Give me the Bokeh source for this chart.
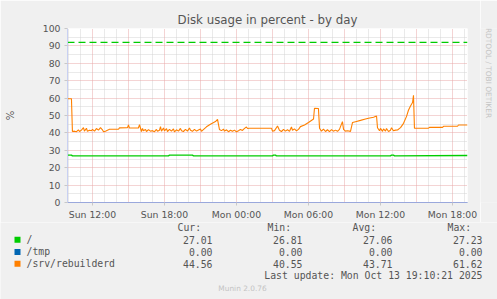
import math
from bokeh.plotting import figure
from bokeh.layouts import column, row
from bokeh.models import Range1d, FixedTicker, Grid, Title
from bokeh.core.properties import value
from bokeh.embed import file_html
from bokeh.resources import INLINE

# ---------------- data (hours since Sun 00:00) ----------------
x_start, x_end = 9.92, 43.25

root_t = [9.92, 10.25, 10.33, 18.33, 18.42, 20.33, 20.42, 27.0, 27.08, 27.25, 27.33,
          36.83, 36.92, 37.08, 37.17, 43.25]
root_v = [27.2, 27.2, 26.82, 26.82, 27.2, 27.2, 26.82, 26.82, 27.2, 27.2, 26.82,
          26.82, 27.2, 27.2, 26.82, 27.01]

tmp_t = [9.92, 43.25]
tmp_v = [0.0, 0.0]

srv_t = [9.92, 10.25, 10.33, 10.5, 10.67, 10.83, 10.92, 11.08, 11.25, 11.33, 11.5, 11.58,
         11.75, 11.92, 12.0, 12.17, 12.33, 12.5, 12.67, 12.83, 12.92, 13.08, 13.33, 13.42,
         14.17, 14.25, 14.92, 15.0, 15.08, 15.83, 15.92, 16.08,
         16.17, 16.25, 16.42, 16.5, 16.67, 16.83, 17.0, 17.17, 17.33, 17.42, 17.58, 17.67,
         17.75, 17.92, 18.0, 18.17, 18.25, 18.42, 18.58, 18.75, 18.83, 19.0, 19.17, 19.33,
         19.42, 19.58, 19.75, 19.92, 20.08, 20.17, 20.33, 20.5, 20.67, 20.83, 21.0, 21.08,
         21.17, 21.5, 21.83, 22.25, 22.42, 22.58,
         22.75, 22.92, 23.0, 23.17, 23.33, 23.5, 23.67, 23.83, 24.0, 24.17, 24.33, 24.5,
         24.67, 24.83, 24.92, 25.08, 26.92,
         27.0, 27.17, 27.42, 27.58, 27.75, 27.92, 28.08, 28.25, 28.42, 28.58, 28.67, 28.83,
         29.0, 29.17, 29.33, 29.67, 30.0, 30.42, 30.5, 30.83, 30.92,
         31.08, 31.25, 31.42, 31.58, 31.75, 31.92, 32.08, 32.25, 32.42, 32.58, 32.83, 32.92,
         33.08, 33.25, 33.5, 33.67, 34.0, 34.33, 34.75, 35.0, 35.42, 35.67, 35.75,
         35.92, 36.0, 36.17, 36.25, 36.42, 36.5, 36.67, 36.83, 36.92, 37.08, 37.25, 37.42,
         37.67, 37.92, 38.17, 38.33, 38.5, 38.67, 38.75, 38.83,
         40.0, 40.08, 41.17, 41.25, 42.42, 42.5, 43.25]
srv_v = [59.6, 59.6, 40.8, 41.0, 40.7, 41.8, 40.8, 41.6, 43.0, 41.0, 42.7, 40.9,
         41.5, 41.2, 42.0, 41.0, 42.5, 41.6, 43.0, 41.8, 40.6, 41.0, 41.8, 42.1,
         42.1, 42.9, 43.0, 44.6, 42.8, 42.8, 44.8, 40.8,
         42.5, 41.2, 42.0, 40.8, 41.9, 41.0, 41.3, 40.7, 42.0, 40.9, 41.5, 43.6,
         41.0, 42.8, 41.2, 42.5, 40.8, 42.0, 41.0, 42.3, 40.6, 41.8, 41.0, 42.6,
         41.2, 40.8, 42.0, 41.0, 42.8, 41.5, 40.9, 42.0, 41.0, 41.7, 42.2, 40.9,
         41.5, 43.5, 45.0, 46.5, 47.8, 42.0,
         41.3, 42.2, 41.0, 41.8, 40.7, 41.5, 40.9, 41.6, 40.6, 41.2, 42.0, 41.4,
         42.6, 43.4, 42.5, 42.7, 42.7,
         41.0, 41.3, 44.0, 41.5, 40.8, 42.0, 41.0, 41.8, 40.9, 43.4, 41.5, 42.3,
         41.2, 42.0, 43.6, 44.5, 46.0, 48.0, 54.2, 54.0, 42.7,
         41.0, 42.2, 40.8, 41.8, 40.7, 41.9, 41.0, 41.6, 40.9, 42.0, 46.5, 42.0,
         41.0, 41.2, 40.9, 46.0, 46.6, 47.2, 48.0, 48.4, 49.0, 49.7, 43.0,
         41.2, 42.6, 40.9, 42.3, 41.0, 42.5, 40.8, 41.5, 43.0, 41.2, 41.6, 41.7,
         43.0, 45.5, 49.5, 53.0, 55.5, 57.5, 61.6, 42.7,
         42.7, 43.2, 43.2, 43.8, 43.8, 44.56, 44.56]

warn_level = 92

x_ticks = [12, 18, 24, 30, 36, 42]
x_labels = ["Sun 12:00", "Sun 18:00", "Mon 00:00", "Mon 06:00", "Mon 12:00", "Mon 18:00"]
y_ticks = [0, 10, 20, 30, 40, 50, 60, 70, 80, 90, 100]

series_names = ["/", "/tmp", "/srv/rebuilderd"]
series_colors = ["#00cc00", "#0066b3", "#ff8000"]
cur_vals = [27.01, 0.00, 44.56]
min_vals = [26.81, 0.00, 40.55]
avg_vals = [27.06, 0.00, 43.71]
max_vals = [27.23, 0.00, 61.62]
stat_headers = ["Cur:", "Min:", "Avg:", "Max:"]

title_text = "Disk usage in percent - by day"
update_text = "Last update: Mon Oct 13 19:10:21 2025"
side_text = "RRDTOOL / TOBI OETIKER"
footer_text = "Munin 2.0.76"

# ---------------- layout ----------------
W = 497
W1 = 480              # main figure width; a narrow strip fills the rest
H1, H2 = 222, 77
FL, FR, FT, FB = 67, 467, 28, 203
BG = "#f0f0f0"
TXT = "#555555"

p = figure(width=W1, height=H1, output_backend="svg", toolbar_location=None,
           x_range=Range1d(x_start, x_end), y_range=Range1d(0, 100),
           min_border_left=FL, min_border_right=W1 - FR, min_border_top=FT,
           min_border_bottom=H1 - FB)
p.background_fill_color = "white"
p.border_fill_color = BG
p.outline_line_color = None
p.xgrid.grid_line_color = None
p.ygrid.grid_line_color = None

p.add_layout(Title(text=title_text, align="center", text_font="DejaVu Sans",
                   text_font_size="11.8px", text_font_style="normal",
                   text_color=TXT, standoff=3), "above")

# grids
minor_x = [h for h in range(10, 44) if h % 3 != 0]
major_x = [h for h in range(10, 44) if h % 3 == 0]
minor_y = [v for v in range(5, 100, 10)]
major_y = [v for v in range(10, 101, 10)]
for dim, ticks, col in [(0, minor_x, "#d4d4d4"), (1, minor_y, "#d4d4d4"),
                        (0, major_x, "#e8a8a8"), (1, major_y, "#e8a8a8")]:
    p.add_layout(Grid(dimension=dim, ticker=FixedTicker(ticks=ticks), grid_line_color=col,
                      grid_line_dash="1 1", grid_line_width=1))

# axes
p.xaxis.ticker = FixedTicker(ticks=x_ticks)
p.xaxis.major_label_overrides = {t: l for t, l in zip(x_ticks, x_labels)}
p.yaxis.ticker = FixedTicker(ticks=y_ticks)
for ax in (p.xaxis[0], p.yaxis[0]):
    ax.major_label_text_font = "DejaVu Sans"
    ax.major_label_text_font_size = "9.3px"
    ax.major_label_text_color = TXT
    ax.major_tick_in = 0
    ax.major_tick_out = 3
    ax.major_tick_line_color = "#c8c8c8"
    ax.minor_tick_line_color = None
p.xaxis.axis_line_color = "#9aa8dc"
p.yaxis.axis_line_color = "#c8d0f2"
p.xaxis.major_label_standoff = 3
p.yaxis.major_label_standoff = 4
p.yaxis.axis_label = "%"
p.yaxis.axis_label_text_font = "DejaVu Sans"
p.yaxis.axis_label_text_font_size = "10px"
p.yaxis.axis_label_text_font_style = "normal"
p.yaxis.axis_label_text_color = TXT
p.yaxis.axis_label_standoff = 24

# series
p.line(srv_t, srv_v, line_color=series_colors[2], line_width=1.1)
p.line(root_t, root_v, line_color=series_colors[0], line_width=1.4)
p.line(tmp_t, tmp_v, line_color=series_colors[1], line_width=1)
p.line([x_start, x_end], [warn_level, warn_level], line_color="#00cc00",
       line_width=1.3, line_dash="7 4")

# ---------------- right strip with the vertical credit text ----------------
SW = W - W1
s = figure(width=SW, height=H1, output_backend="svg", toolbar_location=None,
           x_range=Range1d(0, SW), y_range=Range1d(0, H1),
           min_border=0, min_border_left=0, min_border_right=0,
           min_border_top=0, min_border_bottom=0,
           x_axis_type=None, y_axis_type=None)
s.background_fill_color = BG
s.border_fill_color = BG
s.outline_line_color = None
s.grid.grid_line_color = None
s.text(x=[488 - W1], y=[H1 - 53.5], text=[side_text], angle=-math.pi / 2,
       text_font=value("DejaVu Sans"), text_font_size=value("7.4px"),
       text_color="#c4c4c4", text_align="center", text_baseline="middle")

# ---------------- legend panel (pixel coordinates) ----------------
q = figure(width=W, height=H2, output_backend="svg", toolbar_location=None,
           x_range=Range1d(0, W), y_range=Range1d(H2, 0),
           min_border=0, min_border_left=0, min_border_right=0,
           min_border_top=0, min_border_bottom=0,
           x_axis_type=None, y_axis_type=None)
q.background_fill_color = BG
q.border_fill_color = BG
q.outline_line_color = None
q.grid.grid_line_color = None

mono = value("DejaVu Sans Mono")
fs = value("9.8px")
hy = 5
rows_y = [17, 29.3, 41]

q.text(x=[177, 267, 352, 447], y=[hy] * 4, text=stat_headers, text_font=mono,
       text_font_size=fs, text_color=TXT, text_baseline="middle", text_align="left")
q.rect(x=[17] * 3, y=[r + 0.3 for r in rows_y], width=6, height=6,
       fill_color=series_colors, line_color=None)
q.text(x=[26] * 3, y=rows_y, text=series_names, text_font=mono, text_font_size=fs,
       text_color=TXT, text_baseline="middle", text_align="left")
for xr, vals in [(212, cur_vals), (302, min_vals), (392, avg_vals), (482, max_vals)]:
    q.text(x=[xr] * 3, y=rows_y, text=["%.2f" % v for v in vals], text_font=mono,
           text_font_size=fs, text_color=TXT, text_baseline="middle", text_align="right")
q.text(x=[482], y=[53], text=[update_text], text_font=mono, text_font_size=fs,
       text_color=TXT, text_baseline="middle", text_align="right")
q.text(x=[242], y=[66], text=[footer_text], text_font=value("DejaVu Sans"),
       text_font_size=value("7.4px"), text_color="#c4c4c4", text_baseline="middle",
       text_align="center")

layout = column(row(p, s, spacing=0), q, spacing=0)
open("out.html", "w").write(file_html(layout, INLINE))
